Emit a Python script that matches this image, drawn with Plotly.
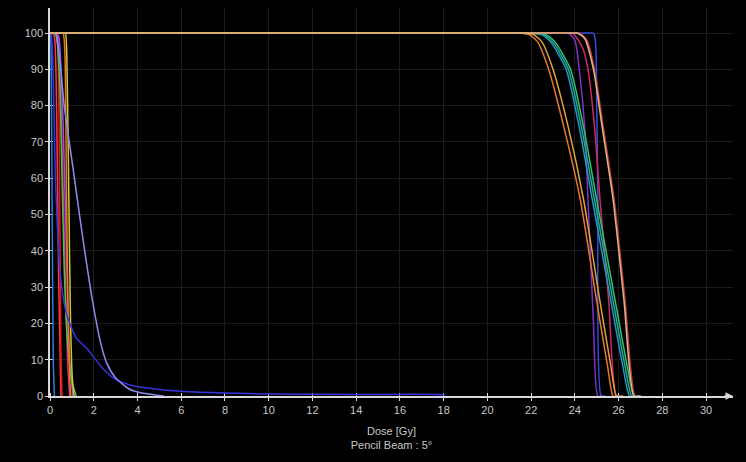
import plotly.graph_objects as go

# Dose axis ticks (Gy) and volume axis ticks (%)
dose_ticks = list(range(0, 31, 2))
volume_ticks = list(range(0, 101, 10))

# ---- Target structures (stay at 100 % until the prescription fall-off) ----
ptv_orange_dose = [0, 10, 20.4, 21.1, 21.4, 21.9, 22.3, 22.8, 23.5, 24.25, 25.0, 25.5, 25.75, 26.0]
ptv_orange_vol = [100, 100, 100, 100, 100, 99.6, 97.5, 90.0, 74.0, 54.0, 26.0, 8.0, 0, 0]

ptv_gold_dose = [0, 10, 20.6, 21.3, 21.6, 22.1, 22.5, 23.0, 23.7, 24.4, 25.15, 25.65, 25.9, 26.2]
ptv_gold_vol = [100, 100, 100, 100, 100, 99.6, 97.5, 90.0, 74.0, 54.0, 26.0, 8.0, 0, 0]

ptv_teal_dose = [0, 10, 21.0, 21.7, 22.0, 22.6, 23.0, 23.7, 24.3, 24.9, 25.75, 26.3, 26.6, 26.9]
ptv_teal_vol = [100, 100, 100, 100, 100, 99.5, 97.5, 90.0, 74.0, 54.0, 26.0, 8.0, 0, 0]

ptv_green_dose = [0, 10, 21.1, 21.8, 22.1, 22.7, 23.1, 23.8, 24.4, 25.0, 25.85, 26.4, 26.7, 27.0]
ptv_green_vol = [100, 100, 100, 100, 100, 99.5, 97.5, 90.0, 74.0, 54.0, 26.0, 8.0, 0, 0]

ptv_cyan_dose = [0, 10, 20.9, 21.6, 21.9, 22.5, 22.9, 23.6, 24.2, 24.8, 25.65, 26.2, 26.5, 26.8]
ptv_cyan_vol = [100, 100, 100, 100, 100, 99.5, 97.5, 90.0, 74.0, 54.0, 26.0, 8.0, 0, 0]

ptv_purple_dose = [0, 10, 22.8, 23.45, 23.7, 24.0, 24.2, 24.45, 24.6, 24.85, 25.05, 25.3]
ptv_purple_vol = [100, 100, 100, 100, 100, 98.0, 90.0, 74.0, 54.0, 20.0, 0, 0]

ptv_magenta_dose = [0, 10, 23.0, 23.65, 23.9, 24.35, 24.6, 24.9, 25.15, 25.55, 25.9, 26.2]
ptv_magenta_vol = [100, 100, 100, 100, 100, 96.0, 90.0, 74.0, 54.0, 26.0, 0, 0]

ptv_blue_dose = [0, 10, 24.0, 24.7, 24.85, 24.95, 25.0, 25.05, 25.2, 25.4]
ptv_blue_vol = [100, 100, 100, 100, 100, 97.0, 80.0, 54.0, 0, 0]

ptv_red_dose = [0, 10, 23.3, 23.95, 24.2, 24.55, 24.9, 25.3, 25.8, 26.3, 26.75, 27.0]
ptv_red_vol = [100, 100, 100, 100, 100, 98.0, 90.0, 74.0, 54.0, 26.0, 0, 0]

ptv_tan_dose = [0, 10, 23.2, 23.85, 24.1, 24.45, 24.85, 25.25, 25.75, 26.25, 26.7, 27.0]
ptv_tan_vol = [100, 100, 100, 100, 100, 98.5, 90.0, 74.0, 54.0, 26.0, 0, 0]

# ---- Organs at risk (fall off within the first Gy or with a long tail) ----
oar_blue_dose = [0, 0.03, 0.1, 0.25, 0.45, 0.7, 0.87, 1.2, 1.7, 2.0, 2.5, 3.0, 3.8,
                 5.0, 6.0, 8.0, 10.0, 14.0, 18.0, 18.05]
oar_blue_vol = [100, 100, 97, 60, 35, 24, 20.5, 16.0, 13.0, 10.7, 7.0, 4.6, 2.8,
                1.8, 1.3, 0.8, 0.55, 0.4, 0.3, 0]

oar_lavender_dose = [0, 0.15, 0.25, 0.35, 0.46, 0.65, 0.88, 1.07, 1.37, 1.66, 1.95,
                     2.3, 2.6, 3.0, 3.6, 4.2, 4.8, 5.2]
oar_lavender_vol = [100, 100, 100, 97, 92, 80, 70, 62, 49, 37, 26,
                    15, 9.0, 5.0, 2.0, 0.8, 0.3, 0]

oar_cyan_dose = [0, 0.02, 0.05, 0.1, 0.15, 0.2]
oar_cyan_vol = [100, 100, 95, 50, 10, 0]

oar_red_dose = [0, 0.1, 0.2, 0.3, 0.4, 0.5]
oar_red_vol = [100, 100, 99, 80, 30, 0]

oar_crimson_dose = [0, 0.2, 0.3, 0.38, 0.45, 0.5, 0.55]
oar_crimson_vol = [100, 100, 100, 92, 50, 12, 0]

oar_magenta_dose = [0, 0.25, 0.35, 0.5, 0.65, 0.8, 0.9]
oar_magenta_vol = [100, 100, 99, 80, 45, 10, 0]

oar_purple_dose = [0, 0.3, 0.4, 0.6, 0.75, 0.9, 1.05]
oar_purple_vol = [100, 100, 99, 75, 40, 10, 0]

oar_green_dose = [0, 0.2, 0.3, 0.45, 0.55, 0.65, 0.8, 1.0, 1.2]
oar_green_vol = [100, 100, 99, 85, 60, 35, 15, 4, 0]

oar_orange_dose = [0, 0.5, 0.6, 0.68, 0.75, 0.82, 0.9, 0.95]
oar_orange_vol = [100, 100, 100, 95, 60, 25, 5, 0]

oar_yellow_dose = [0, 0.6, 0.7, 0.78, 0.86, 0.94, 1.02, 1.1]
oar_yellow_vol = [100, 100, 100, 90, 55, 20, 5, 0]

curves = [
    (oar_cyan_dose, oar_cyan_vol, "#2c7cd8"),
    (oar_red_dose, oar_red_vol, "#ff3a3a"),
    (oar_crimson_dose, oar_crimson_vol, "#e01c1c"),
    (oar_magenta_dose, oar_magenta_vol, "#d03080"),
    (oar_purple_dose, oar_purple_vol, "#a050e0"),
    (oar_green_dose, oar_green_vol, "#48c840"),
    (oar_orange_dose, oar_orange_vol, "#f07818"),
    (oar_yellow_dose, oar_yellow_vol, "#d0c838"),
    (oar_blue_dose, oar_blue_vol, "#3434e0"),
    (oar_lavender_dose, oar_lavender_vol, "#8c8cf0"),
    (ptv_blue_dose, ptv_blue_vol, "#3050d8"),
    (ptv_purple_dose, ptv_purple_vol, "#8030c8"),
    (ptv_magenta_dose, ptv_magenta_vol, "#d02868"),
    (ptv_cyan_dose, ptv_cyan_vol, "#2098c8"),
    (ptv_green_dose, ptv_green_vol, "#30c070"),
    (ptv_teal_dose, ptv_teal_vol, "#20a890"),
    (ptv_red_dose, ptv_red_vol, "#c83838"),
    (ptv_orange_dose, ptv_orange_vol, "#e8782c"),
    (ptv_gold_dose, ptv_gold_vol, "#e0a040"),
    (ptv_tan_dose, ptv_tan_vol, "#d8b888"),
]

fig = go.Figure()
for dose, vol, color in curves:
    fig.add_trace(go.Scatter(
        x=dose, y=vol, mode="lines",
        line=dict(color=color, width=1.5, shape="spline", smoothing=0.6),
        hoverinfo="skip", showlegend=False,
    ))

axis_color = "#d8d8d8"
label_font = dict(family="Liberation Sans, Arial, sans-serif", size=11, color="#c8c8c8")
grid_color = "#1c1c1c"

fig.update_xaxes(
    range=[0, 31.23],
    tickmode="array", tickvals=dose_ticks, ticktext=[str(t) for t in dose_ticks],
    ticks="outside", ticklen=3, tickwidth=1.2, tickcolor=axis_color,
    minor=dict(tickmode="array", tickvals=dose_ticks, ticks="inside",
               ticklen=3, tickwidth=1.2, tickcolor=axis_color, showgrid=False),
    showgrid=True, gridcolor=grid_color, gridwidth=1,
    showline=True, linecolor=axis_color, linewidth=1.5,
    zeroline=False, tickfont=label_font, layer="below traces",
    title=dict(text="Dose [Gy]<br>Pencil Beam : 5°", font=label_font, standoff=12),
    automargin=False,
)
fig.update_yaxes(
    range=[0, 106.9],
    tickmode="array", tickvals=volume_ticks, ticktext=[str(t) for t in volume_ticks],
    ticks="outside", ticklen=3, tickwidth=1.2, tickcolor=axis_color,
    minor=dict(tickmode="array", tickvals=volume_ticks, ticks="inside",
               ticklen=3, tickwidth=1.2, tickcolor=axis_color, showgrid=False),
    showgrid=True, gridcolor=grid_color, gridwidth=1,
    showline=True, linecolor=axis_color, linewidth=1.5,
    zeroline=False, tickfont=label_font, layer="below traces",
    automargin=False,
)

# arrow head at the end of the dose axis
fig.add_annotation(
    xref="paper", x=1.0, yref="y", y=0, text="",
    showarrow=True, arrowhead=2, arrowsize=1, arrowwidth=1.5,
    arrowcolor=axis_color, ax=-10, ay=0,
)

fig.update_layout(
    width=746, height=462,
    margin=dict(l=50, r=13, t=8, b=66, autoexpand=False),
    paper_bgcolor="#000000", plot_bgcolor="#000000",
    showlegend=False,
)

fig.write_html("out.html")
